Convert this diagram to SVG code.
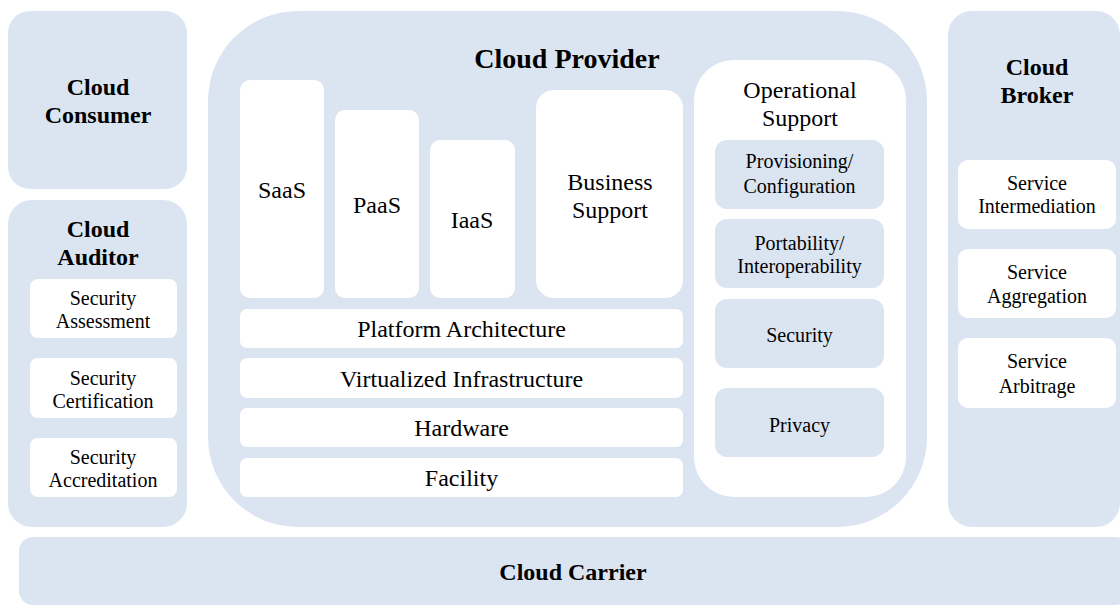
<svg xmlns="http://www.w3.org/2000/svg" width="1120" height="606" viewBox="0 0 1120 606">
<style>
.bg{fill:#dbe5f1}
.w{fill:#ffffff}
text{font-family:"Liberation Serif","Times New Roman",serif;fill:#000;text-anchor:middle}
.b{font-weight:bold;font-size:24px}
.m{font-size:24px}
.s{font-size:20px}
.t{font-weight:bold;font-size:28px}
</style>
<rect width="1120" height="606" fill="#ffffff"/>
<g id="consumer">
<rect class="bg" x="8" y="11" width="179" height="178" rx="22"/>
<text class="b" x="98" y="95">Cloud</text>
<text class="b" x="98" y="123">Consumer</text>
</g>
<g id="auditor">
<rect class="bg" x="8" y="200" width="179" height="327" rx="24"/>
<text class="b" x="98" y="237">Cloud</text>
<text class="b" x="98" y="265">Auditor</text>
<g id="sec-assessment">
<rect class="w" x="30" y="279" width="147" height="59" rx="8"/>
<text class="s" x="103" y="305">Security</text>
<text class="s" x="103" y="328">Assessment</text>
</g>
<g id="sec-certification">
<rect class="w" x="30" y="358" width="147" height="60" rx="8"/>
<text class="s" x="103" y="385">Security</text>
<text class="s" x="103" y="408">Certification</text>
</g>
<g id="sec-accreditation">
<rect class="w" x="30" y="438" width="147" height="59" rx="8"/>
<text class="s" x="103" y="464">Security</text>
<text class="s" x="103" y="487">Accreditation</text>
</g>
</g>
<g id="provider">
<rect class="bg" x="208" y="11" width="719" height="516" rx="90"/>
<text class="t" x="567" y="68">Cloud Provider</text>
<g id="saas">
<rect class="w" x="240" y="80" width="84" height="218" rx="10"/>
<text class="m" x="282" y="198">SaaS</text>
</g>
<g id="paas">
<rect class="w" x="335" y="110" width="84" height="188" rx="10"/>
<text class="m" x="377" y="213">PaaS</text>
</g>
<g id="iaas">
<rect class="w" x="430" y="140" width="85" height="158" rx="10"/>
<text class="m" x="472" y="228">IaaS</text>
</g>
<g id="business">
<rect class="w" x="536" y="90" width="147" height="208" rx="18"/>
<text class="m" x="610" y="190">Business</text>
<text class="m" x="610" y="218">Support</text>
</g>
<g id="platform">
<rect class="w" x="240" y="309" width="443" height="39" rx="7"/>
<text class="m" x="461.5" y="337">Platform Architecture</text>
</g>
<g id="virtualized">
<rect class="w" x="240" y="358" width="443" height="40" rx="7"/>
<text class="m" x="461.5" y="387">Virtualized Infrastructure</text>
</g>
<g id="hardware">
<rect class="w" x="240" y="408" width="443" height="39" rx="7"/>
<text class="m" x="461.5" y="436">Hardware</text>
</g>
<g id="facility">
<rect class="w" x="240" y="458" width="443" height="39" rx="7"/>
<text class="m" x="461.5" y="486">Facility</text>
</g>
<g id="operational">
<rect class="w" x="694" y="60" width="212" height="437" rx="40"/>
<text class="m" x="800" y="98">Operational</text>
<text class="m" x="800" y="126">Support</text>
<g id="provisioning">
<rect class="bg" x="715" y="140" width="169" height="69" rx="12"/>
<text class="s" x="799.5" y="168">Provisioning/</text>
<text class="s" x="799.5" y="193">Configuration</text>
</g>
<g id="portability">
<rect class="bg" x="715" y="219" width="169" height="69" rx="12"/>
<text class="s" x="799.5" y="250">Portability/</text>
<text class="s" x="799.5" y="273">Interoperability</text>
</g>
<g id="security">
<rect class="bg" x="715" y="299" width="169" height="69" rx="12"/>
<text class="s" x="799.5" y="342">Security</text>
</g>
<g id="privacy">
<rect class="bg" x="715" y="388" width="169" height="69" rx="12"/>
<text class="s" x="799.5" y="432">Privacy</text>
</g>
</g>
</g>
<g id="broker">
<rect class="bg" x="948" y="11" width="172" height="516" rx="24"/>
<text class="b" x="1037" y="75">Cloud</text>
<text class="b" x="1037" y="103">Broker</text>
<g id="intermediation">
<rect class="w" x="958" y="160" width="158" height="69" rx="10"/>
<text class="s" x="1037" y="190">Service</text>
<text class="s" x="1037" y="213">Intermediation</text>
</g>
<g id="aggregation">
<rect class="w" x="958" y="249" width="158" height="69" rx="10"/>
<text class="s" x="1037" y="279">Service</text>
<text class="s" x="1037" y="303">Aggregation</text>
</g>
<g id="arbitrage">
<rect class="w" x="958" y="338" width="158" height="70" rx="10"/>
<text class="s" x="1037" y="368">Service</text>
<text class="s" x="1037" y="393">Arbitrage</text>
</g>
</g>
<g id="carrier">
<rect class="bg" x="19" y="537" width="1110" height="68" rx="14"/>
<text class="b" x="573" y="580">Cloud Carrier</text>
</g>
<g id="connectors"></g>
</svg>
